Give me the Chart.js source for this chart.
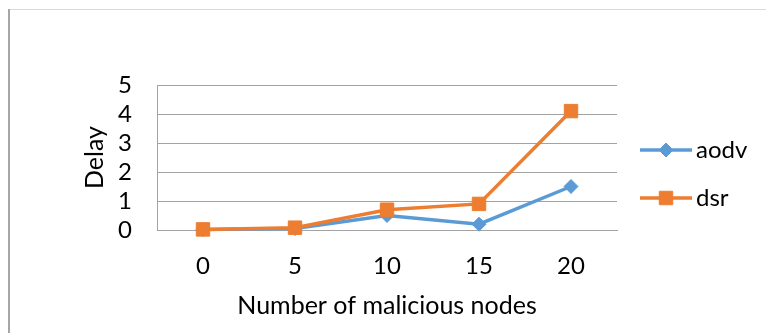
<!DOCTYPE html>
<html>
<head>
<meta charset="utf-8">
<title>Delay vs malicious nodes</title>
<script src="https://cdn.jsdelivr.net/npm/chart.js@4/dist/chart.umd.min.js"></script>
<style>
  html, body { margin: 0; padding: 0; background: #fff; }
  #wrap { width: 766px; height: 333px; }
</style>
</head>
<body>
<div id="wrap"><canvas id="chart" width="766" height="333"></canvas></div>
<script>
// values
var nodes = ['0', '5', '10', '15', '20'];
var aodv = [0.02, 0.05, 0.5, 0.2, 1.5];
var dsr = [0.02, 0.08, 0.7, 0.9, 4.1];
var yTicks = [0, 1, 2, 3, 4, 5];

var BLUE = '#5B9BD5';
var ORANGE = '#ED7D31';
var GRID = '#a3a3a3';
var FONT = 'Lato, "Open Sans", sans-serif';

// frame lines round the chart object (as in the copied Excel image)
var framePlugin = {
    id: 'frame',
    beforeDraw: function(chart) {
        var ctx = chart.ctx;
        ctx.save();
        ctx.fillStyle = '#fff';
        ctx.fillRect(0, 0, chart.width, chart.height);
        ctx.strokeStyle = '#d9d9d9';
        ctx.lineWidth = 1;
        ctx.beginPath();
        ctx.moveTo(8, 9.5);
        ctx.lineTo(chart.width, 9.5);
        ctx.stroke();
        ctx.strokeStyle = '#a6a6a6';
        ctx.lineWidth = 2;
        ctx.beginPath();
        ctx.moveTo(9, 9);
        ctx.lineTo(9, chart.height);
        ctx.stroke();
        ctx.restore();
    }
};

// excel style legend: short line with the marker on it
var legendPlugin = {
    id: 'lineLegend',
    afterDraw: function(chart) {
        var ctx = chart.ctx;
        var x0 = chart.chartArea.right + 23;
        var x1 = x0 + 52;
        var rows = [150, 198];
        ctx.save();
        chart.data.datasets.forEach(function(ds, i) {
            var y = rows[i];
            ctx.strokeStyle = ds.borderColor;
            ctx.lineWidth = ds.borderWidth;
            ctx.beginPath();
            ctx.moveTo(x0, y);
            ctx.lineTo(x1, y);
            ctx.stroke();
            ctx.fillStyle = ds.pointBackgroundColor;
            ctx.strokeStyle = ds.pointBorderColor;
            ctx.lineWidth = ds.pointBorderWidth;
            Chart.helpers.drawPoint(ctx, {
                pointStyle: ds.pointStyle,
                radius: ds.pointRadius,
                rotation: 0,
                borderWidth: ds.pointBorderWidth
            }, (x0 + x1) / 2, y);
            ctx.fillStyle = '#000';
            ctx.font = '24px ' + FONT;
            ctx.textAlign = 'left';
            ctx.textBaseline = 'middle';
            ctx.fillText(ds.label, x1 + 4, y);
        });
        ctx.restore();
    }
};

new Chart(document.getElementById('chart'), {
    type: 'line',
    data: {
        labels: nodes,
        datasets: [{
            label: 'aodv',
            data: aodv,
            order: 2,
            borderColor: BLUE,
            backgroundColor: BLUE,
            borderWidth: 3.5,
            pointStyle: 'rectRot',
            pointRadius: 7,
            pointBackgroundColor: BLUE,
            pointBorderColor: BLUE,
            pointBorderWidth: 1,
            tension: 0,
            clip: false
        }, {
            label: 'dsr',
            data: dsr,
            order: 1,
            borderColor: ORANGE,
            backgroundColor: ORANGE,
            borderWidth: 3.5,
            pointStyle: 'rect',
            pointRadius: 9.5,
            pointBackgroundColor: ORANGE,
            pointBorderColor: ORANGE,
            pointBorderWidth: 1,
            tension: 0,
            clip: false
        }]
    },
    options: {
        responsive: false,
        animation: false,
        events: [],
        layout: { padding: { top: 85, right: 149, left: 0, bottom: 0 } },
        plugins: {
            legend: { display: false },
            tooltip: { enabled: false }
        },
        scales: {
            x: {
                type: 'category',
                offset: true,
                grid: { display: false, drawTicks: false },
                border: { display: true, color: GRID, width: 1 },
                ticks: {
                    color: '#000',
                    padding: 22,
                    font: { family: FONT, size: 24 }
                },
                title: {
                    display: true,
                    text: 'Number of malicious nodes',
                    color: '#000',
                    font: { family: FONT, size: 25 },
                    padding: { top: 0, bottom: 12 }
                },
                afterFit: function(scale) { scale.height = 103; }
            },
            y: {
                min: yTicks[0],
                max: yTicks[yTicks.length - 1],
                afterBuildTicks: function(scale) {
                    scale.ticks = yTicks.map(function(v) { return { value: v }; });
                },
                grid: { color: GRID, lineWidth: 1, drawTicks: false },
                border: { display: true, color: GRID, width: 1 },
                ticks: {
                    color: '#000',
                    padding: 25,
                    autoSkip: false,
                    font: { family: FONT, size: 24 }
                },
                title: {
                    display: true,
                    text: 'Delay',
                    color: '#000',
                    font: { family: FONT, size: 25 },
                    padding: { top: 80, bottom: 0 }
                },
                afterFit: function(scale) { scale.width = 157; }
            }
        }
    },
    plugins: [framePlugin, legendPlugin]
});
</script>
</body>
</html>
